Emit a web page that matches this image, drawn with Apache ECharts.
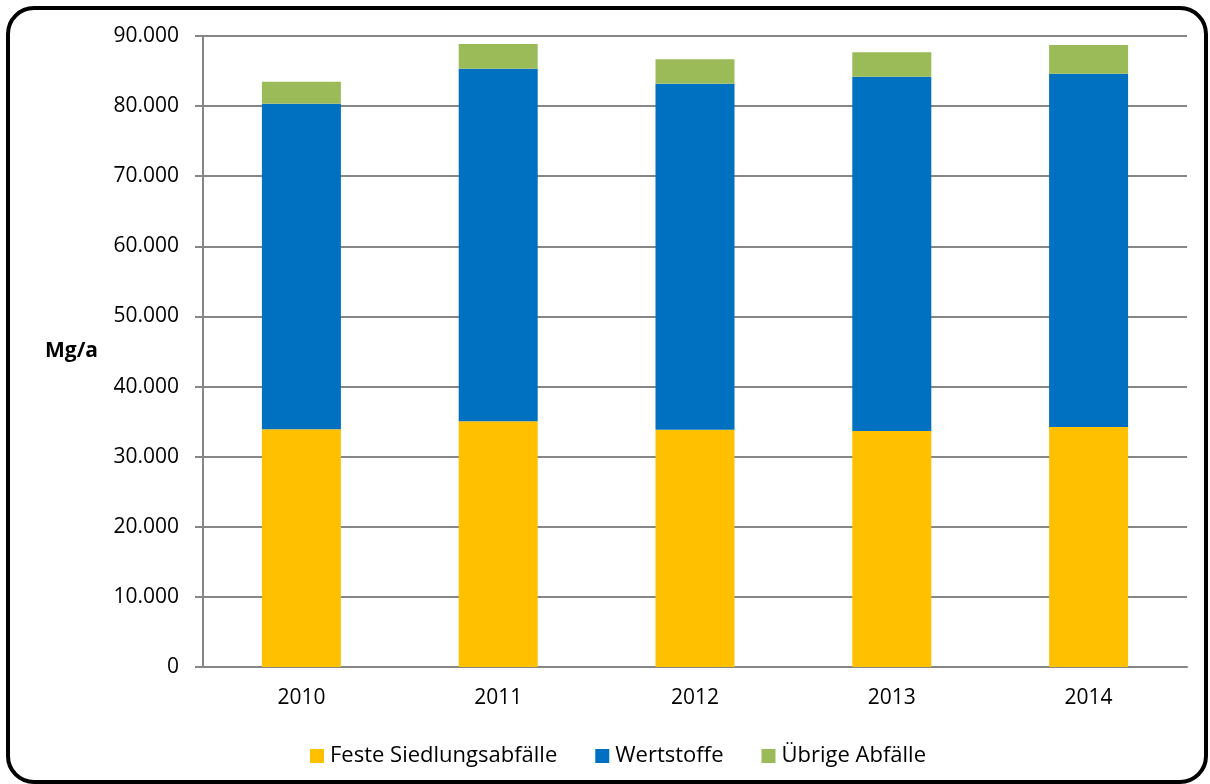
<!DOCTYPE html>
<html>
<head>
<meta charset="utf-8">
<script src="https://cdn.jsdelivr.net/npm/echarts@6/dist/echarts.min.js"></script>
<style>
html,body{margin:0;padding:0;background:#fff;}
#c{width:1210px;height:784px;}
</style>
</head>
<body>
<div id="c"></div>
<script>
const years = ['2010','2011','2012','2013','2014'];
const feste = [33900, 35040, 33850, 33660, 34230];
const wertstoffe = [46430, 50300, 49350, 50540, 50390];
const uebrige = [3150, 3520, 3480, 3500, 4100];
const seriesNames = ['Feste Siedlungsabfälle', 'Wertstoffe', 'Übrige Abfälle'];
const colors = ['#FFC000', '#0070C0', '#9BBB59'];

const chart = echarts.init(document.getElementById('c'), null, {renderer: 'canvas'});
const font = 'Open Sans, sans-serif';
const fmt = v => v === 0 ? '0' : (v / 1000).toFixed(0) + '.000';
chart.setOption({
  animation: false,
  color: colors,
  textStyle: {fontFamily: font, color: '#000'},
  graphic: [{
    type: 'rect',
    shape: {x: 8, y: 8, width: 1198, height: 774, r: 26},
    style: {fill: 'none', stroke: '#000', lineWidth: 4},
    silent: true, z: 100
  }],
  grid: {left: 203, right: 23, top: 36, bottom: 117, containLabel: false},
  legend: {
    top: 740, left: 305,
    itemWidth: 14, itemHeight: 14, itemGap: 38,
    icon: 'rect',
    textStyle: {fontSize: 22, fontFamily: font, color: '#000', padding: [0,0,0,1]},
    data: seriesNames
  },
  xAxis: {
    type: 'category', data: years,
    axisLine: {lineStyle: {color: '#868686', width: 2}},
    axisTick: {show: false},
    axisLabel: {fontSize: 21, color: '#000', margin: 21, fontFamily: font}
  },
  yAxis: {
    type: 'value', min: 0, max: 90000, interval: 10000,
    name: 'Mg/a', nameLocation: 'middle', nameRotate: 0, nameGap: 105,
    nameTextStyle: {fontSize: 21, fontWeight: 'bold', color: '#000', fontFamily: font},
    axisLine: {show: true, lineStyle: {color: '#868686', width: 2}},
    axisTick: {show: true, length: 8, lineStyle: {color: '#868686', width: 2}},
    splitLine: {lineStyle: {color: '#868686', width: 2}},
    axisLabel: {fontSize: 21, color: '#000', margin: 24, formatter: fmt, fontFamily: font}
  },
  series: [
    {name: seriesNames[0], type: 'bar', stack: 'a', data: feste, barWidth: 79},
    {name: seriesNames[1], type: 'bar', stack: 'a', data: wertstoffe, barWidth: 79},
    {name: seriesNames[2], type: 'bar', stack: 'a', data: uebrige, barWidth: 79}
  ]
});
</script>
</body>
</html>
